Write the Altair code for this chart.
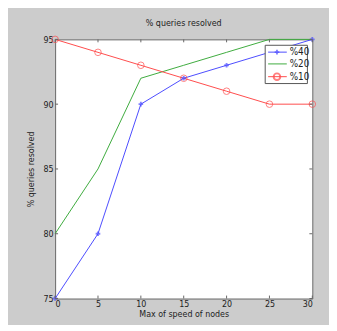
import altair as alt
import pandas as pd

speed = [0, 5, 10, 15, 20, 25, 30]
s40 = [75, 80, 90, 92, 93, 94, 95]
s20 = [80, 85, 92, 93, 94, 95, 95]
s10 = [95, 94, 93, 92, 91, 90, 90]
series_names = ["%40", "%20", "%10"]
colors = ["#4a4aff", "#3caa3c", "#ff4a4a"]
x_ticks = [0, 5, 10, 15, 20, 25, 30]
y_ticks = [75, 80, 85, 90, 95]

W, H = 262, 264
FONT = "DejaVu Sans Condensed"

rows = []
for name, vals in zip(series_names, [s40, s20, s10]):
    for x, y in zip(speed, vals):
        rows.append({"speed": x, "val": y, "series": name})
df = pd.DataFrame(rows)

xs = alt.Scale(domain=[0, 30], nice=False)
ys = alt.Scale(domain=[75, 95], nice=False, zero=False)

xax = alt.Axis(values=x_ticks, title="Max of speed of nodes", grid=False, tickSize=0,
               labelPadding=1, domain=False, labelFont=FONT, labelFontSize=9,
               labelColor="#222", titleFont=FONT, titleFontSize=9, titleFontWeight="normal",
               titleColor="#222", titlePadding=1)
yax = alt.Axis(values=y_ticks, title="% queries resolved", grid=False, tickSize=0,
               labelPadding=2, domain=False, labelFont=FONT, labelFontSize=9,
               labelColor="#222", titleFont=FONT, titleFontSize=9, titleFontWeight="normal",
               titleColor="#222", titlePadding=8)

def line(name, color):
    d = df[df.series == name]
    return alt.Chart(d).mark_line(color=color, strokeWidth=1).encode(
        x=alt.X("speed:Q", scale=xs, axis=xax),
        y=alt.Y("val:Q", scale=ys, axis=yax),
    )

l40 = line("%40", colors[0])
l20 = line("%20", colors[1])
l10 = line("%10", colors[2])

p40 = alt.Chart(df[df.series == "%40"]).mark_point(shape="cross", filled=True, size=22,
                                                    color=colors[0]).encode(
    x=alt.X("speed:Q", scale=xs), y=alt.Y("val:Q", scale=ys))
p10 = alt.Chart(df[df.series == "%10"]).mark_point(shape="circle", filled=False, size=45,
                                                    strokeWidth=1, color=colors[2]).encode(
    x=alt.X("speed:Q", scale=xs), y=alt.Y("val:Q", scale=ys))

# inward tick marks
xt = pd.DataFrame({"t": x_ticks})
yt = pd.DataFrame({"t": y_ticks})
tick_col = "#666"
tb = alt.Chart(xt).mark_rule(color=tick_col).encode(
    x=alt.X("t:Q", scale=xs), y=alt.value(H), y2=alt.value(H - 3))
tt = alt.Chart(xt).mark_rule(color=tick_col).encode(
    x=alt.X("t:Q", scale=xs), y=alt.value(0), y2=alt.value(3))
tl = alt.Chart(yt).mark_rule(color=tick_col).encode(
    y=alt.Y("t:Q", scale=ys), x=alt.value(0), x2=alt.value(3))
tr = alt.Chart(yt).mark_rule(color=tick_col).encode(
    y=alt.Y("t:Q", scale=ys), x=alt.value(W), x2=alt.value(W - 3))

# legend
lx0, lx1, ly0, ly1 = 214, 257, 6, 45
leg_box = alt.Chart(pd.DataFrame({"a": [0]})).mark_rect(
    fill="white", stroke="#555", strokeWidth=1).encode(
    x=alt.value(lx0), x2=alt.value(lx1), y=alt.value(ly0), y2=alt.value(ly1))
leg_layers = [leg_box]
row_y = [13, 25, 38]
shapes = ["cross", None, "circle"]
for name, col, ry, shp in zip(series_names, colors, row_y, shapes):
    one = pd.DataFrame({"n": [name]})
    leg_layers.append(alt.Chart(one).mark_rule(color=col, strokeWidth=1).encode(
        x=alt.value(217), x2=alt.value(236), y=alt.value(ry)))
    if shp == "cross":
        leg_layers.append(alt.Chart(one).mark_point(shape="cross", filled=True, size=22,
                                                    color=col).encode(
            x=alt.value(226), y=alt.value(ry)))
    elif shp == "circle":
        leg_layers.append(alt.Chart(one).mark_point(shape="circle", filled=False, size=45,
                                                    color=col).encode(
            x=alt.value(226), y=alt.value(ry)))
    leg_layers.append(alt.Chart(one).mark_text(align="left", baseline="middle", font=FONT,
                                               fontSize=10, color="#222").encode(
        x=alt.value(239), y=alt.value(ry), text="n:N"))

chart = alt.layer(l40, l20, l10, p40, p10, tb, tt, tl, tr, *leg_layers).properties(
    width=W, height=H,
    title=alt.TitleParams("% queries resolved", font=FONT, fontSize=9, fontWeight="normal",
                          color="#222", offset=6),
    background="#cccccc",
    padding={"left": 48, "top": 29, "right": 17, "bottom": 24},
    autosize=alt.AutoSizeParams(type="none"),
).configure_view(fill="white", stroke="#666", strokeWidth=1)

chart.save("out.html", embed_options={"renderer": "svg", "actions": False})
